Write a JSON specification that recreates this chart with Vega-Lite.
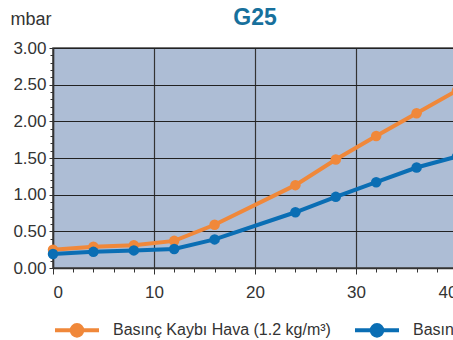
{
  "$schema": "https://vega.github.io/schema/vega-lite/v6.json",
  "width": 404,
  "height": 220,
  "autosize": {"type": "none"},
  "padding": {"left": 53, "top": 48, "right": 0, "bottom": 72},
  "background": "white",
  "title": {"text": "G25", "fontSize": 23, "fontWeight": "bold", "color": "#17709c", "anchor": "middle", "baseline": "alphabetic", "offset": -38, "font": "Liberation Sans"},
  "config": {
    "font": "Liberation Sans",
    "view": {"fill": "#adbdd5", "stroke": "#444", "strokeWidth": 1.5}
  },
  "data": {"values": [
    {"x": 0, "y": 0.25, "series": "Basınç Kaybı Hava (1.2 kg/m³)"},
    {"x": 4, "y": 0.29, "series": "Basınç Kaybı Hava (1.2 kg/m³)"},
    {"x": 8, "y": 0.31, "series": "Basınç Kaybı Hava (1.2 kg/m³)"},
    {"x": 12, "y": 0.37, "series": "Basınç Kaybı Hava (1.2 kg/m³)"},
    {"x": 16, "y": 0.59, "series": "Basınç Kaybı Hava (1.2 kg/m³)"},
    {"x": 24, "y": 1.13, "series": "Basınç Kaybı Hava (1.2 kg/m³)"},
    {"x": 28, "y": 1.48, "series": "Basınç Kaybı Hava (1.2 kg/m³)"},
    {"x": 32, "y": 1.80, "series": "Basınç Kaybı Hava (1.2 kg/m³)"},
    {"x": 36, "y": 2.11, "series": "Basınç Kaybı Hava (1.2 kg/m³)"},
    {"x": 40, "y": 2.42, "series": "Basınç Kaybı Hava (1.2 kg/m³)"},
    {"x": 0, "y": 0.19, "series": "Basınç Kaybı Doğalgaz (G25)"},
    {"x": 4, "y": 0.22, "series": "Basınç Kaybı Doğalgaz (G25)"},
    {"x": 8, "y": 0.24, "series": "Basınç Kaybı Doğalgaz (G25)"},
    {"x": 12, "y": 0.26, "series": "Basınç Kaybı Doğalgaz (G25)"},
    {"x": 16, "y": 0.39, "series": "Basınç Kaybı Doğalgaz (G25)"},
    {"x": 24, "y": 0.76, "series": "Basınç Kaybı Doğalgaz (G25)"},
    {"x": 28, "y": 0.97, "series": "Basınç Kaybı Doğalgaz (G25)"},
    {"x": 32, "y": 1.17, "series": "Basınç Kaybı Doğalgaz (G25)"},
    {"x": 36, "y": 1.37, "series": "Basınç Kaybı Doğalgaz (G25)"},
    {"x": 40, "y": 1.52, "series": "Basınç Kaybı Doğalgaz (G25)"}
  ]},
  "layer": [
    {
      "mark": {"type": "point", "opacity": 0},
      "encoding": {
        "x": {"field": "x", "type": "quantitative", "scale": {"domain": [0, 40], "nice": false},
          "axis": {"values": [2,4,6,8,12,14,16,18,22,24,26,28,32,34,36,38], "labels": false, "domain": false, "grid": false, "tickSize": 4, "tickColor": "#333", "title": null, "orient": "bottom"}},
        "y": {"field": "y", "type": "quantitative", "scale": {"domain": [0, 3], "nice": false},
          "axis": {"values": [0.1,0.2,0.3,0.4,0.6,0.7,0.8,0.9,1.1,1.2,1.3,1.4,1.6,1.7,1.8,1.9,2.1,2.2,2.3,2.4,2.6,2.7,2.8,2.9], "labels": false, "domain": false, "grid": false, "tickSize": 3, "tickColor": "#333", "title": null, "orient": "left"}}
      }
    },
    {
      "mark": {"type": "line", "strokeWidth": 4, "point": {"filled": true, "size": 110}},
      "encoding": {
        "x": {"field": "x", "type": "quantitative",
          "axis": {"values": [0, 10, 20, 30, 40], "orient": "bottom", "grid": true, "gridColor": "#333", "gridWidth": 1.2, "domainColor": "#333", "domainWidth": 1.5, "tickColor": "#333", "tickSize": 6, "labelFontSize": 17, "labelColor": "#333", "labelPadding": 10, "title": null}},
        "y": {"field": "y", "type": "quantitative",
          "axis": {"values": [0, 0.5, 1, 1.5, 2, 2.5, 3], "format": ".2f", "grid": true, "gridColor": "#222", "gridWidth": 1.2, "domainColor": "#333", "domainWidth": 1.5, "tickColor": "#333", "tickSize": 4, "labelFontSize": 17, "labelColor": "#333", "labelPadding": 3, "orient": "left",
            "title": "mbar", "titleAngle": 0, "titleAlign": "left", "titleBaseline": "alphabetic", "titleX": -43, "titleY": -24, "titleFontSize": 18, "titleFontWeight": "normal", "titleColor": "#333"}},
        "color": {"field": "series", "type": "nominal", "sort": null,
          "scale": {"domain": ["Basınç Kaybı Hava (1.2 kg/m³)", "Basınç Kaybı Doğalgaz (G25)"], "range": ["#f0883a", "#0a6eb4"]},
          "legend": {"orient": "none", "direction": "horizontal", "legendX": 0, "legendY": 258, "title": null,
            "symbolType": "M-1,0H1M0.24,0A0.24,0.24,0,1,1,-0.24,0A0.24,0.24,0,1,1,0.24,0Z", "symbolSize": 1936, "symbolStrokeWidth": 4,
            "labelFontSize": 16, "labelColor": "#333", "labelOffset": 12, "labelLimit": 400, "columnPadding": 16,
            "encode": {"symbols": {"update": {"stroke": {"scale": "color", "field": "value"}, "fill": {"scale": "color", "field": "value"}, "strokeWidth": {"value": 4}, "opacity": {"value": 1}}}}}}
      }
    }
  ],
  "resolve": {"axis": {"x": "independent", "y": "independent"}}
}
